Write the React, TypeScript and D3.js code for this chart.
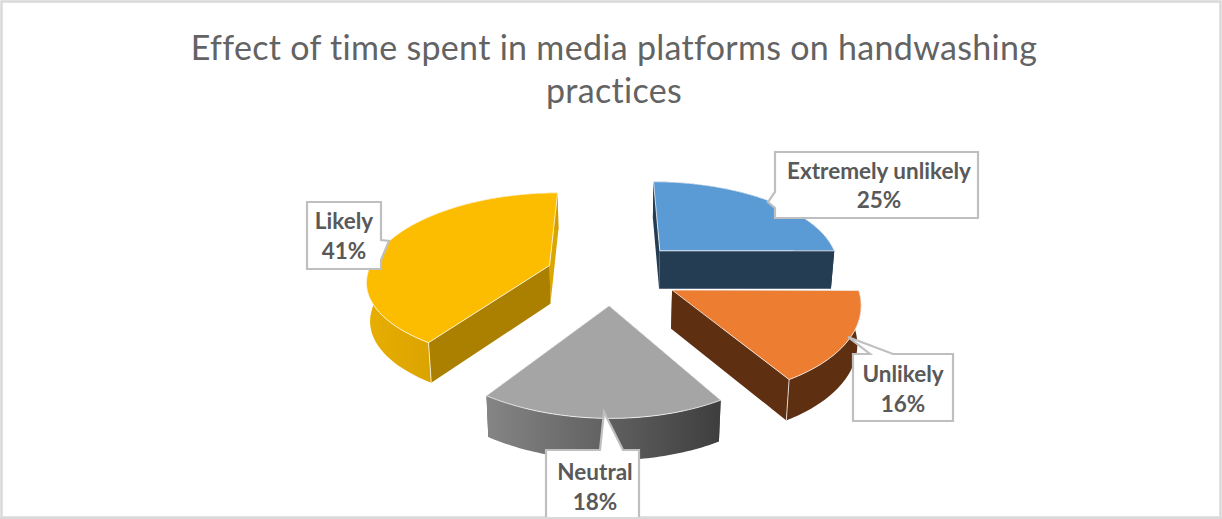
import React from "react";
import * as d3 from "d3";

// Survey answers, in drawing order round the pie (clockwise from 12 o'clock).
const categories = ["Extremely unlikely", "Unlikely", "Neutral", "Likely"];
const percentages = [25, 16, 18, 41];
const explosions = [72, 69, 65, 65];
const topColors = ["#5b9bd5", "#ed7d31", "#a5a5a5", "#fcbd00"];
const sideColors = ["#243d53", "#5f2f12", "#555555", "#ab8000"];
const titleLines = [
  "Effect of time spent in media platforms on handwashing",
  "practices",
];

// Perspective camera for the tilted pie.
const CX = 611;
const HORIZON = -271;
const VERTICAL = 545;
const DIST = 1180;
const RADIUS = 182;

type Pt = [number, number];

function project(x: number, y: number, z: number): Pt {
  const s = DIST / (DIST + y);
  const near = Math.max(s - 1, 0);
  const far = Math.max(1 - s, 0);
  // Slight yaw and roll of the camera, felt mostly on the near side of the pie.
  const px = CX + x * s * (1 - 0.015 * z) - near * (32.5 + 0.117 * x);
  const py = HORIZON + VERTICAL * s + near * 0.1 * x - far * 15 + z * (26 + 12.5 * s);
  return [px, py];
}

const line = d3.line<Pt>().curve(d3.curveLinear);
const slices = d3.pie<number>().sort(null).value((d) => d)(percentages);

// Callouts: box corners, pointer base and tip, and text baselines.
const callouts = [
  { x0: 775, y0: 152, x1: 978, y1: 218, wedge: [[775, 192], [768, 202], [775, 208]], cx: 879, b: [179, 208] },
  { x0: 853, y0: 354, x1: 953, y1: 421, wedge: [[870, 354], [848, 337], [893, 354]], cx: 903, b: [382, 412] },
  { x0: 546, y0: 450, x1: 639, y1: 530, wedge: [[600, 450], [604, 412], [623, 450]], cx: 595, b: [480, 510] },
  { x0: 307, y0: 202, x1: 381, y1: 269, wedge: [[381, 240], [389, 241], [381, 260]], cx: 344, b: [229, 259] },
];

function calloutPath(c: (typeof callouts)[number]): string {
  const corners: Pt[] = [[c.x0, c.y0], [c.x1, c.y0], [c.x1, c.y1], [c.x0, c.y1]];
  const w = c.wedge as Pt[];
  let pts: Pt[];
  if (w[0][1] === c.y0 && w[2][1] === c.y0) {
    pts = [corners[0], ...w, corners[1], corners[2], corners[3]];
  } else if (w[0][0] === c.x0) {
    pts = [corners[0], corners[1], corners[2], corners[3], ...[...w].reverse()];
  } else {
    pts = [corners[0], corners[1], ...w, corners[2], corners[3]];
  }
  return (line(pts) ?? "") + "Z";
}

function Slice({ index }: { index: number }) {
  const sl = slices[index];
  const e = explosions[index];
  const mid = (sl.startAngle + sl.endAngle) / 2;
  const ox = e * Math.sin(mid);
  const oy = e * Math.cos(mid);
  const steps = d3.range(0, 61).map((i) => sl.startAngle + ((sl.endAngle - sl.startAngle) * i) / 60);
  const rim = (a: number, z: number) => project(ox + RADIUS * Math.sin(a), oy + RADIUS * Math.cos(a), z);
  const apex = (z: number) => project(ox, oy, z);

  const topArc = steps.map((a) => rim(a, 0));
  const bottomArc = steps.map((a) => rim(a, 1));
  const topPath = (line([apex(0), ...topArc]) ?? "") + "Z";
  const outerPath = (line([...topArc, ...[...bottomArc].reverse()]) ?? "") + "Z";
  const radialPath = (a: number) =>
    (line([apex(0), rim(a, 0), rim(a, 1), apex(1)]) ?? "") + "Z";

  const outerFill = index === 2 ? "url(#grayWall)" : index === 3 ? "url(#yellowWall)" : sideColors[index];
  const farRadial = index === 3 ? "#dba600" : sideColors[index];
  const corner = line([rim(sl.startAngle, 0), rim(sl.startAngle, 1)]) ?? "";
  const edge = "rgba(255,255,255,0.75)";

  return (
    <g>
      <path d={radialPath(sl.endAngle)} fill={farRadial} />
      <path d={radialPath(sl.startAngle)} fill={sideColors[index]} />
      <path d={outerPath} fill={outerFill} />
      {index === 1 && (
        <path d={line([rim(sl.endAngle, 0), rim(sl.endAngle, 1)]) ?? ""} stroke={edge} fill="none" />
      )}
      {index === 3 && <path d={corner} stroke={edge} fill="none" />}
      <path d={topPath} fill={topColors[index]} stroke={edge} strokeWidth={1} strokeLinejoin="round" />
    </g>
  );
}

// Back slices are painted first so the nearer ones overlap them.
const paintOrder = [0, 3, 1, 2];

export default function App() {
  return (
    <div style={{ position: "fixed", left: 0, top: 0 }}>
      <svg width={1222} height={519} style={{ display: "block", background: "#fff" }} fontFamily="Lato, sans-serif">
        <defs>
          <linearGradient id="grayWall" x1="0" x2="1" y1="0" y2="0">
            <stop offset="0" stopColor="#858585" />
            <stop offset="1" stopColor="#3e3e3e" />
          </linearGradient>
          <linearGradient id="yellowWall" x1="0" x2="0.5" y1="0" y2="0">
            <stop offset="0" stopColor="#e8ae00" />
            <stop offset="1" stopColor="#d49e00" />
          </linearGradient>
        </defs>
        <rect x={1.5} y={1.5} width={1219} height={516} fill="#fff" stroke="#d9d9d9" strokeWidth={2.5} />
        {titleLines.map((t, i) => (
          <text key={t} x={614} y={60 + i * 43} textAnchor="middle" fontSize={34} fill="#636363" letterSpacing={0.3}>
            {t}
          </text>
        ))}
        {paintOrder.map((i) => (
          <Slice key={categories[i]} index={i} />
        ))}
        {callouts.map((c, i) => (
          <g key={categories[i]}>
            <path d={calloutPath(c)} fill="#fff" stroke="#bfbfbf" strokeWidth={2.2} />
            <text x={c.cx} y={c.b[0]} textAnchor="middle" fontSize={22.5} fontWeight={700} fill="#595959">
              {categories[i]}
            </text>
            <text x={c.cx} y={c.b[1]} textAnchor="middle" fontSize={22.5} fontWeight={700} fill="#595959">
              {percentages[i]}%
            </text>
          </g>
        ))}
        <rect x={0} y={517} width={1222} height={2} fill="#d9d9d9" />
      </svg>
    </div>
  );
}
